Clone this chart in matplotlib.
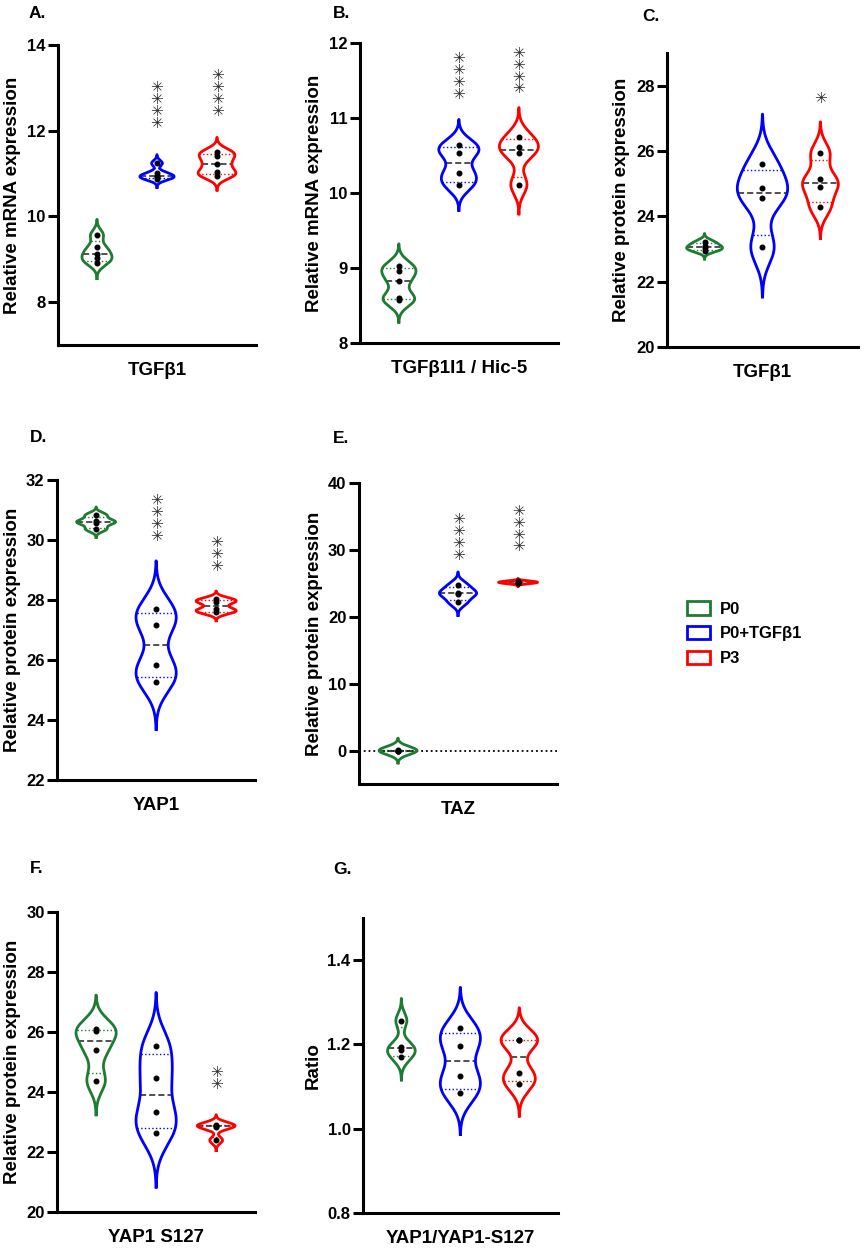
import numpy as np
import matplotlib.pyplot as plt
from matplotlib.patches import Patch

plt.rcParams['font.family'] = ['Liberation Sans', 'DejaVu Sans']
plt.rcParams['font.weight'] = 'bold'
plt.rcParams['axes.labelweight'] = 'bold'

# --- groups ---
groups = ['P0', 'P0+TGFβ1', 'P3']
colors = ['#1e7b32', '#0000ff', '#ff0000']

# --- values (one list per group) ---
a_vals = [[9.57, 9.28, 9.13, 9.02, 8.91],
          [11.24, 11.01, 10.95, 10.91, 10.88],
          [11.51, 11.40, 11.22, 11.03, 10.95]]
b_vals = [[9.03, 8.96, 8.83, 8.60, 8.57],
          [10.64, 10.53, 10.27, 10.11],
          [10.75, 10.61, 10.54, 10.11]]
c_vals = [[23.22, 23.10, 23.02, 22.95],
          [25.61, 24.86, 24.57, 23.05],
          [25.93, 25.14, 24.89, 24.28]]
d_vals = [[30.83, 30.63, 30.57, 30.36],
          [27.71, 27.16, 25.83, 25.28],
          [28.02, 27.92, 27.69, 27.59]]
e_vals = [[0.05, 0.0, 0.0, -0.05],
          [24.75, 23.55, 23.45, 22.15],
          [25.3, 25.2, 25.1, 25.0]]
f_vals = [[26.10, 26.03, 25.39, 24.37],
          [25.52, 24.48, 23.32, 22.63],
          [22.90, 22.87, 22.85, 22.39]]
g_vals = [[1.256, 1.195, 1.187, 1.169],
          [1.238, 1.196, 1.126, 1.084],
          [1.211, 1.210, 1.132, 1.106]]

letters = ['A.', 'B.', 'C.', 'D.', 'E.', 'F.', 'G.']
xlabels = ['TGFβ1', 'TGFβ1I1 / Hic-5', 'TGFβ1', 'YAP1', 'TAZ', 'YAP1 S127', 'YAP1/YAP1-S127']
ylabels = ['Relative mRNA expression', 'Relative mRNA expression',
           'Relative protein expression', 'Relative protein expression',
           'Relative protein expression', 'Relative protein expression', 'Ratio']
ylims = [(7, 14), (8, 12), (20, 29), (22, 32), (-5, 40), (20, 30), (0.8, 1.5)]
yticks = [[8, 10, 12, 14], [8, 9, 10, 11, 12], [20, 22, 24, 26, 28],
          [22, 24, 26, 28, 30, 32], [0, 10, 20, 30, 40], [20, 22, 24, 26, 28, 30],
          [0.8, 1.0, 1.2, 1.4]]
ytick_fmt = ['%d', '%d', '%d', '%d', '%d', '%d', '%.1f']

# significance stars (count per group) and where the lowest star sits
sig_count = [[0, 4, 4], [0, 4, 4], [0, 0, 1], [0, 4, 3], [0, 4, 4], [0, 0, 2], [0, 0, 0]]
sig_y = [[0, 12.16, 12.44], [0, 11.31, 11.38], [0, 0, 27.6], [0, 30.11, 29.09],
         [0, 29.1, 30.35], [0, 0, 24.24], [0, 0, 0]]

all_vals = [a_vals, b_vals, c_vals, d_vals, e_vals, f_vals, g_vals]

# --- layout / style ---
rects = [(0.067, 0.724, 0.229, 0.240),
         (0.416, 0.7256, 0.229, 0.240),
         (0.771, 0.7224, 0.221, 0.2352),
         (0.066, 0.376, 0.229, 0.240),
         (0.415, 0.3728, 0.229, 0.2408),
         (0.066, 0.0304, 0.229, 0.240),
         (0.4197, 0.0296, 0.225, 0.236)]
label_pos = [(0.033, 0.995), (0.385, 0.995), (0.743, 0.993), (0.034, 0.656),
             (0.385, 0.655), (0.034, 0.311), (0.385, 0.310)]
widths = [[0.50, 0.57, 0.63], [0.57, 0.67, 0.65], [0.62, 0.87, 0.62],
          [0.65, 0.67, 0.67], [0.63, 0.62, 0.65], [0.67, 0.67, 0.63],
          [0.47, 0.68, 0.62]]
bw_factor = 0.47
bw_override = {(2, 0): 0.085, (4, 0): 0.6, (4, 1): 0.65, (4, 2): 0.15}
positions = [1, 2, 3]


def draw_violin(ax, pos, vals, bw, width, color):
    vals = np.asarray(vals, dtype=float)
    grid = np.linspace(vals.min() - 3 * bw, vals.max() + 3 * bw, 500)
    dens = np.exp(-0.5 * ((grid[:, None] - vals[None, :]) / bw) ** 2).sum(axis=1)
    half = dens / dens.max() * width / 2
    xs = np.concatenate([pos + half, (pos - half)[::-1]])
    ys = np.concatenate([grid, grid[::-1]])
    ax.plot(xs, ys, color=color, lw=2.0, solid_joinstyle='round', zorder=3)

    med = np.median(vals)
    q1, q3 = np.percentile(vals, [25, 75], method='weibull')
    for q in (q1, q3):
        h = np.interp(q, grid, half)
        ax.plot([pos - h, pos + h], [q, q], color=color, lw=1.0, ls=':', zorder=2)
    h = np.interp(med, grid, half)
    ax.plot([pos - h, pos + h], [med, med], color='#222222', lw=1.1, ls=(0, (4, 2)), zorder=2)

    ax.plot(np.full(len(vals), pos), vals, 'o', color='black', ms=3.3, zorder=4)


fig = plt.figure(figsize=(8.65, 12.5), dpi=100)

for i, vals in enumerate(all_vals):
    ax = fig.add_axes(rects[i])
    for j, grp in enumerate(vals):
        sd = np.std(grp, ddof=1)
        bw = bw_override.get((i, j), bw_factor * sd)
        draw_violin(ax, positions[j], grp, bw, widths[i][j], colors[j])
        n = sig_count[i][j]
        if n:
            # one stacked text per group, bottom star centred on sig_y
            ax.annotate('\n'.join(['✳'] * n), xy=(positions[j], sig_y[i][j]),
                        xytext=(0, -5), textcoords='offset points',
                        ha='center', va='bottom', fontsize=11, linespacing=0.74,
                        color='#2a2a2a', fontweight='bold', family=['DejaVu Sans'])
    if i == 4:
        ax.axhline(0, color='black', lw=1.3, ls=':', zorder=1)

    ax.set_xlim(0.35, 3.65)
    ax.set_ylim(*ylims[i])
    ax.set_yticks(yticks[i])
    ax.set_yticklabels([ytick_fmt[i] % t for t in yticks[i]])
    ax.set_xticks([])
    for s in ['top', 'right']:
        ax.spines[s].set_visible(False)
    for s in ['left', 'bottom']:
        ax.spines[s].set_linewidth(2.2)
    ax.tick_params(axis='y', direction='out', length=7, width=2.2, labelsize=12, pad=2)
    ax.set_ylabel(ylabels[i], fontsize=13.5, labelpad=4)
    ax.set_xlabel(xlabels[i], fontsize=13.5, labelpad=12)
    fig.text(label_pos[i][0], label_pos[i][1], letters[i], fontsize=12.5,
             fontweight='bold', va='top', ha='left')

handles = [Patch(facecolor='white', edgecolor=c, lw=2) for c in colors]
fig.legend(handles, groups, loc='center left', bbox_to_anchor=(0.777, 0.493),
           frameon=False, prop={'size': 12, 'weight': 'bold'},
           handlelength=1.35, handleheight=0.85, handletextpad=0.6, labelspacing=0.55)

fig.savefig('out.png', dpi=100)
